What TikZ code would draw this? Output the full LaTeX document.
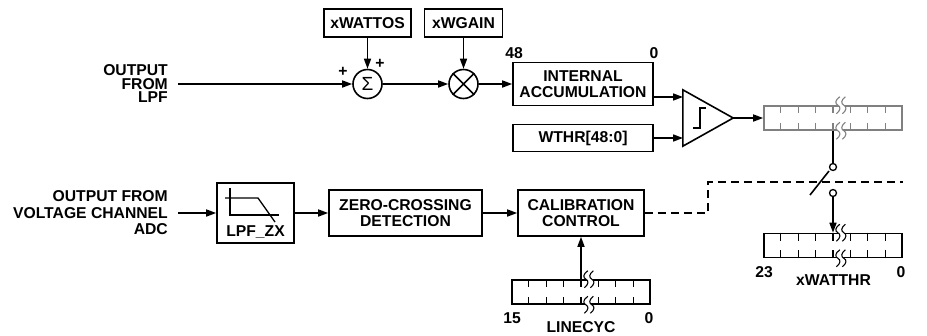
\documentclass[tikz,border=0pt]{standalone}
\usepackage{fontspec}
\setmainfont{Liberation Sans}
\usepackage{tikz}
\usetikzlibrary{arrows.meta,positioning,calc}
\definecolor{reggray}{gray}{0.5}
\newcommand{\wattfont}{\fontsize{15.7}{16.5}\selectfont\bfseries}
\tikzset{
  wattbox/.style={draw, line width=1.6pt, align=center, inner sep=0pt, font=\wattfont},
  wattarrow/.style={-{Triangle[length=10pt,width=7pt]}, line width=1.6pt},
  wattlabel/.style={font=\wattfont, inner sep=0pt},
  opcircle/.style={circle, draw, line width=1.6pt, minimum size=29pt, inner sep=0pt},
  regbox/.style={draw, line width=1.6pt, minimum width=138pt, minimum height=24pt, inner sep=0pt},
  swcircle/.style={circle, draw, fill=white, line width=1.3pt, minimum size=7pt, inner sep=0pt},
  wiggle/.pic={
    \fill[white] (-1,-8.5) .. controls (-6,-5) and (-6,-1.5) .. (-3,0) .. controls (0,1.5) and (0,5) .. (-4.5,8.5)
      -- (1.5,8.5) .. controls (6,5) and (6,1.5) .. (3,0) .. controls (0,-1.5) and (0,-5) .. (4.5,-8.5) -- cycle;
    \draw[line width=1.1pt] (-1,-8.5) .. controls (-6,-5) and (-6,-1.5) .. (-3,0) .. controls (0,1.5) and (0,5) .. (-4.5,8.5);
    \draw[line width=1.1pt] (4.5,-8.5) .. controls (0,-5) and (0,-1.5) .. (3,0) .. controls (6,1.5) and (6,5) .. (1.5,8.5);
  }
}
\newcommand{\regticks}[2][black]{%
  \foreach \k in {1,...,7}{
    \draw[#1, line width=1.1pt] ($(#2.north west)!\k/8!(#2.north east)$) -- ++(0,8);
    \draw[#1, line width=1.1pt] ($(#2.south west)!\k/8!(#2.south east)$) -- ++(0,-8);
  }
  \path ($(#2.north west)!4.45/8!(#2.north east)$) pic[#1] {wiggle};
  \path ($(#2.south west)!4.45/8!(#2.south east)$) pic[#1] {wiggle};
}

\begin{document}
\begin{tikzpicture}[x=1pt, y=-1pt]
  \useasboundingbox (0,0) rectangle (927,335);
  % power path
  \node[wattlabel, align=right, anchor=east, font=\fontsize{15.7}{13.5}\selectfont\bfseries] (lpfin) at (168,84) {OUTPUT\\FROM\\LPF};
  \node[opcircle] (sum) at (367.5,84) {\fontsize{19}{19}\selectfont Σ};
  \node[wattbox, minimum width=87pt, minimum height=28pt] (wattos) at (367.5,23) {xWATTOS};
  \node[wattlabel] (plusin) at (343,71.5) {+};
  \node[wattlabel] (plusos) at (380,64) {+};
  \node[opcircle] (mult) at (463.5,84) {};
  \draw[line width=1.6pt] (mult.north west) -- (mult.south east) (mult.north east) -- (mult.south west);
  \node[wattbox, minimum width=78pt, minimum height=28pt] (wgain) at (463.5,23) {xWGAIN};
  \node[wattbox, minimum width=140pt, minimum height=43pt] (accum) at (583,84) {INTERNAL\\ACCUMULATION};
  \node[wattlabel] (accmsb) at (514,53) {48};
  \node[wattlabel] (acclsb) at (654,53) {0};
  \node[wattbox, minimum width=140pt, minimum height=27pt] (wthr) at (583,138) {WTHR[48:0]};
  \draw[wattarrow] ($(lpfin.east)+(10,0)$) -- (sum.west);
  \draw[wattarrow] (wattos.south) -- (sum.north);
  \draw[wattarrow] (sum.east) -- (mult.west);
  \draw[wattarrow] (wgain.south) -- (mult.north);
  \draw[wattarrow] (mult.east) -- (accum.west);
  % comparator
  \node[minimum width=50pt, minimum height=56pt, inner sep=0pt] (cmp) at (708,118) {};
  \draw[line width=1.6pt] (cmp.north west) -- (cmp.east) -- (cmp.south west) -- cycle;
  \draw[line width=1.3pt] ([shift={(-15,10)}]cmp.center) -- ++(7,0) -- ++(0,-20) -- ++(6,0);
  \coordinate (cmpA) at (683,97);
  \coordinate (cmpB) at (683,138);
  \draw[wattarrow] (accum.east |- cmpA) -- (cmpA);
  \draw[wattarrow] (wthr.east) -- (cmpB);
  % registers and switch
  \node[regbox, draw=reggray] (wreg) at (833,118) {};
  \regticks[reggray]{wreg}
  \draw[wattarrow] (cmp.east) -- (wreg.west);
  \node[swcircle] (swtop) at (833,167) {};
  \node[swcircle] (swbot) at (833,193) {};
  \draw[line width=1.6pt] (wreg.south) -- (swtop.north);
  \draw[line width=1.6pt] (810,195) -- (829,171);
  \node[regbox] (wattreg) at (833,245.5) {};
  \regticks{wattreg}
  \draw[wattarrow] (swbot.south) -- (wattreg.north);
  \node[wattlabel] (wattmsb) at (764,272) {23};
  \node[wattlabel] (wattlsb) at (901,272) {0};
  \node[wattlabel] (wattname) at (833.5,280) {xWATTHR};
  % zero-crossing path
  \node[wattlabel, align=right, anchor=east] (vin) at (168,213) {OUTPUT FROM\\VOLTAGE CHANNEL\\ADC};
  \node[wattbox, minimum width=77pt, minimum height=60pt] (lpfzx) at (255.5,213) {};
  \node[wattlabel] (lpfzxname) at (255.5,232) {LPF\_ZX};
  \draw[line width=1.3pt] ([shift={(-25.5,-25)}]lpfzx.center) -- ++(0,27) -- ++(49,0);
  \draw[line width=1.3pt] ([shift={(-30.5,-15)}]lpfzx.center) -- ++(33,0) -- ++(17,24);
  \node[wattbox, minimum width=153pt, minimum height=46pt] (zcd) at (405.5,213) {ZERO-CROSSING\\DETECTION};
  \node[wattbox, minimum width=126pt, minimum height=46pt] (calib) at (581,213) {CALIBRATION\\CONTROL};
  \draw[wattarrow] ($(vin.east)+(10,0)$) -- (lpfzx.west);
  \draw[wattarrow] (lpfzx.east) -- (zcd.west);
  \draw[wattarrow] (zcd.east) -- (calib.west);
  \coordinate (dashbend) at (708,182);
  \coordinate (dashend) at (903,182);
  \draw[line width=1.6pt, dash pattern=on 8pt off 5pt] (calib.east) -| (dashbend) -- (dashend);
  \node[regbox] (cycreg) at (581,292) {};
  \regticks{cycreg}
  \draw[wattarrow] (cycreg.north) -- (calib.south);
  \node[wattlabel] (cycmsb) at (512,318) {15};
  \node[wattlabel] (cyclsb) at (649,318) {0};
  \node[wattlabel] (cycname) at (581,327) {LINECYC};
\end{tikzpicture}
\end{document}
